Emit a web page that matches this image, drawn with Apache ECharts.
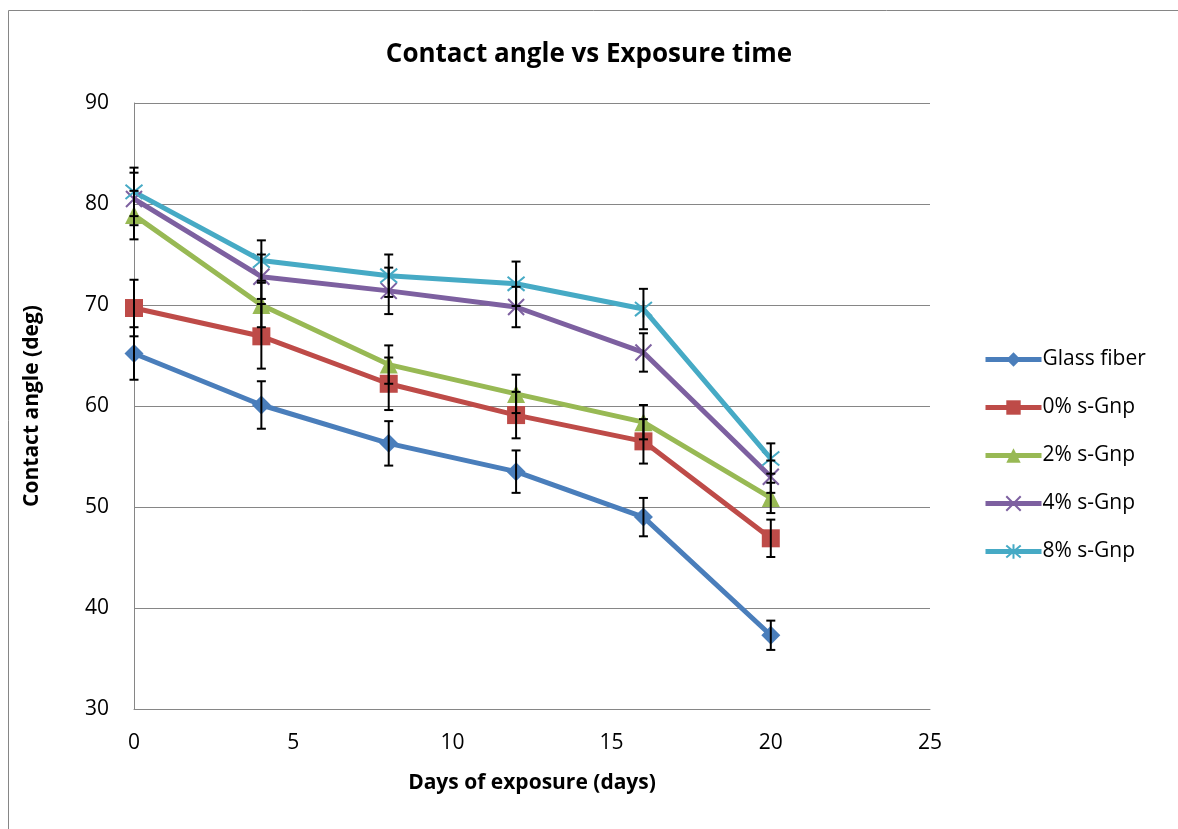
<!DOCTYPE html>
<html>
<head>
<meta charset="utf-8">
<script src="https://cdn.jsdelivr.net/npm/echarts@6/dist/echarts.min.js"></script>
<style>
  html, body { margin: 0; padding: 0; background: #fff; }
  #chart { width: 1178px; height: 829px; }
</style>
</head>
<body>
<div id="chart"></div>
<script>
// data
const days = [0, 4, 8, 12, 16, 20]
const seriesNames = ['Glass fiber', '0% s-Gnp', '2% s-Gnp', '4% s-Gnp', '8% s-Gnp']
const glassFiber = [65.2, 60.1, 56.3, 53.5, 49.0, 37.3]
const gnp0 = [69.7, 66.9, 62.2, 59.1, 56.5, 46.9]
const gnp2 = [78.9, 70.0, 64.1, 61.2, 58.4, 50.9]
const gnp4 = [80.5, 72.8, 71.4, 69.8, 65.3, 53.0]
const gnp8 = [81.2, 74.4, 72.9, 72.1, 69.6, 54.8]
const errGlass = [2.6, 2.35, 2.2, 2.1, 1.9, 1.45]
const err0 = [2.8, 3.2, 2.6, 2.3, 2.2, 1.85]
const err2 = [2.4, 2.2, 1.9, 1.9, 1.7, 1.5]
const err4 = [2.6, 2.2, 2.3, 2.0, 1.9, 1.6]
const err8 = [2.4, 2.0, 2.1, 2.2, 2.0, 1.5]
const xTicks = [0, 5, 10, 15, 20, 25]
const yTicks = [30, 40, 50, 60, 70, 80, 90]

const values = [glassFiber, gnp0, gnp2, gnp4, gnp8]
const errors = [errGlass, err0, err2, err4, err8]
const colors = ['#4A7EBB', '#BE4B48', '#98B954', '#7D60A0', '#46AAC5']
const symbols = [
  'diamond',
  'rect',
  'triangle',
  'path://M0,0L10,10M10,0L0,10',
  'path://M0,0L10,10M10,0L0,10M5,-1L5,11'
]
const symbolSizes = [19, 18, 18, 16, 17]
const font = '"Open Sans", sans-serif'

const lineSeries = values.map((vals, i) => {
  const stroked = i >= 3
  return {
    name: seriesNames[i],
    type: 'line',
    data: days.map((d, j) => [d, vals[j]]),
    symbol: symbols[i],
    symbolSize: symbolSizes[i],
    showAllSymbol: true,
    lineStyle: { color: colors[i], width: 5 },
    itemStyle: stroked
      ? { color: 'rgba(0,0,0,0)', borderColor: colors[i], borderWidth: 2 }
      : { color: colors[i], borderWidth: 0 },
    emphasis: { disabled: true },
    z: 2
  }
})

const errorSeries = values.map((vals, i) => ({
  name: 'err' + i,
  type: 'custom',
  data: days.map((d, j) => [d, vals[j] - errors[i][j], vals[j] + errors[i][j]]),
  renderItem(params, api) {
    const lo = api.coord([api.value(0), api.value(1)])
    const hi = api.coord([api.value(0), api.value(2)])
    const w = 4.5
    const style = { stroke: '#000', lineWidth: 2 }
    return {
      type: 'group',
      children: [
        { type: 'line', shape: { x1: lo[0], y1: lo[1], x2: hi[0], y2: hi[1] }, style },
        { type: 'line', shape: { x1: lo[0] - w, y1: lo[1], x2: lo[0] + w, y2: lo[1] }, style },
        { type: 'line', shape: { x1: hi[0] - w, y1: hi[1], x2: hi[0] + w, y2: hi[1] }, style }
      ]
    }
  },
  silent: true,
  z: 3
}))

const chart = echarts.init(document.getElementById('chart'))
chart.setOption({
  animation: false,
  backgroundColor: '#fff',
  textStyle: { fontFamily: font },
  graphic: [{
    type: 'rect',
    shape: { x: 8.5, y: 10.5, width: 1300, height: 1000 },
    style: { fill: 'none', stroke: '#868686', lineWidth: 1 },
    silent: true
  }],
  title: {
    text: 'Contact angle vs Exposure time',
    left: 'center',
    top: 37,
    textStyle: { fontFamily: font, fontSize: 26, fontWeight: 'bold', color: '#000' }
  },
  legend: {
    data: seriesNames,
    orient: 'vertical',
    left: 978,
    top: 344,
    itemWidth: 56,
    itemHeight: 18,
    itemGap: 27,
    lineStyle: { width: 5 },
    textStyle: { fontFamily: font, fontSize: 21, color: '#000', padding: [0, 0, 0, -4] }
  },
  grid: { left: 134, top: 103, width: 796, height: 606 },
  xAxis: {
    type: 'value',
    min: xTicks[0],
    max: xTicks[xTicks.length - 1],
    interval: 5,
    name: 'Days of exposure (days)',
    nameLocation: 'middle',
    nameGap: 64,
    nameTextStyle: { fontFamily: font, fontSize: 21, fontWeight: 'bold', color: '#000' },
    axisLine: { show: true, lineStyle: { color: '#868686', width: 1 } },
    axisTick: { show: false },
    axisLabel: { fontFamily: font, fontSize: 21, color: '#000', margin: 24 },
    splitLine: { show: false }
  },
  yAxis: {
    type: 'value',
    min: yTicks[0],
    max: yTicks[yTicks.length - 1],
    interval: 10,
    name: 'Contact angle (deg)',
    nameLocation: 'middle',
    nameGap: 91,
    nameTextStyle: { fontFamily: font, fontSize: 21, fontWeight: 'bold', color: '#000' },
    axisLine: { show: true, lineStyle: { color: '#868686', width: 1 } },
    axisTick: { show: false },
    axisLabel: { fontFamily: font, fontSize: 21, color: '#000', margin: 25 },
    splitLine: { show: true, lineStyle: { color: '#868686', width: 1 } }
  },
  series: lineSeries.concat(errorSeries)
})
</script>
</body>
</html>
